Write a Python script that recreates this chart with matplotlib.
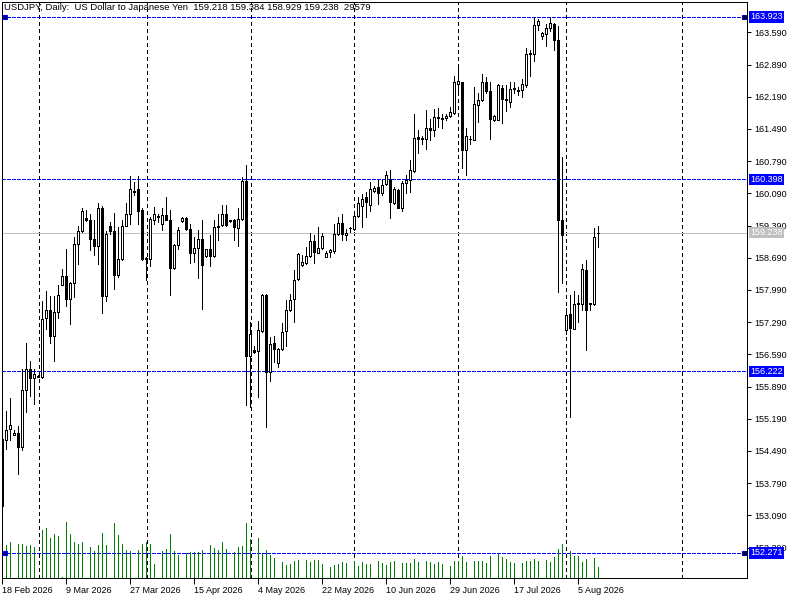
import numpy as np
import pandas as pd
import matplotlib
matplotlib.use("Agg")
from matplotlib import pyplot as plt
from matplotlib.patches import Rectangle
import matplotlib.transforms as mtransforms

plt.rcParams['font.family'] = ['Liberation Sans', 'DejaVu Sans']

# one bar per calendar day except Saturday (Sunday bars are tiny / zero volume)
days = pd.date_range("2026-02-18", "2026-08-11")
days = days[days.dayofweek != 5]

opens = [154.74, 154.73, 154.97, 154.84, 154.89, 154.58, 155.82, 156.28, 156.08, 156.12,
         156.10, 157.37, 157.56, 156.99, 157.50, 158.10, 158.30, 157.80, 158.15, 158.98,
         159.26, 159.55, 159.52, 159.10, 158.95, 159.76, 157.86, 159.39, 159.28, 158.32,
         158.67, 159.39, 159.65, 160.12, 160.18, 159.72, 158.69, 158.67, 159.52, 159.59,
         159.43, 159.61, 159.52, 158.47, 158.96, 159.49, 159.56, 159.32, 158.79, 158.91,
         159.10, 158.72, 158.87, 158.72, 159.39, 159.41, 159.63, 159.50, 159.50, 159.34,
         159.54, 160.35, 156.55, 156.69, 156.66, 157.10, 157.89, 156.21, 156.84, 156.41,
         156.71, 157.10, 157.55, 157.80, 158.23, 158.53, 158.58, 158.72, 159.05, 158.80,
         158.91, 158.71, 158.82, 158.84, 159.21, 159.45, 159.19, 159.33, 159.32, 159.59,
         159.81, 160.01, 159.84, 160.14, 160.23, 160.10, 160.30, 160.41, 159.88, 160.17,
         159.77, 160.32, 160.37, 160.57, 161.31, 161.28, 161.26, 161.50, 161.46, 161.75,
         161.73, 161.73, 161.76, 161.84, 162.47, 162.50, 161.04, 161.27, 161.24, 162.02,
         162.11, 162.50, 162.31, 161.68, 161.69, 162.39, 162.15, 162.08, 162.36, 162.33,
         162.33, 162.44, 163.11, 163.11, 163.74, 163.50, 163.56, 163.69, 163.76, 163.42,
         159.52, 157.11, 157.46, 157.15, 157.70, 157.68, 158.43, 157.70, 157.68, 159.218]
highs = [154.78, 155.35, 155.63, 154.94, 155.04, 156.28, 156.84, 156.44, 156.28, 156.14,
         157.74, 157.96, 157.85, 157.85, 158.09, 158.45, 158.89, 158.16, 159.14, 159.39,
         159.77, 159.73, 159.65, 159.50, 159.89, 159.81, 159.26, 159.47, 159.66, 159.36,
         159.50, 159.88, 160.47, 160.34, 160.47, 159.76, 158.71, 159.58, 159.79, 159.65,
         159.76, 160.02, 159.72, 158.98, 159.36, 159.58, 159.58, 159.43, 159.14, 159.30,
         159.52, 158.89, 159.18, 159.50, 159.65, 159.84, 159.84, 159.52, 159.54, 159.78,
         160.44, 160.71, 157.29, 156.76, 157.31, 157.91, 157.91, 156.97, 156.98, 156.72,
         157.26, 157.76, 157.91, 158.42, 158.79, 158.74, 158.92, 159.23, 159.18, 159.36,
         159.23, 158.83, 158.89, 159.42, 159.58, 159.63, 159.32, 159.36, 159.68, 160.01,
         160.08, 160.12, 160.34, 160.24, 160.37, 160.37, 160.58, 160.59, 160.23, 160.18,
         160.36, 160.48, 160.81, 161.82, 161.46, 161.33, 161.91, 161.71, 161.93, 161.94,
         161.82, 161.82, 161.97, 162.65, 162.82, 162.51, 161.50, 161.33, 162.40, 162.26,
         162.69, 162.62, 162.51, 161.79, 162.47, 162.44, 162.44, 162.51, 162.51, 162.40,
         162.58, 163.24, 163.21, 163.92, 163.89, 163.60, 163.78, 163.923, 163.79, 163.72,
         160.87, 157.59, 157.87, 157.97, 157.88, 158.55, 158.63, 157.71, 159.34, 159.384]
lows = [153.26, 154.54, 154.72, 154.83, 153.99, 154.52, 155.34, 155.68, 155.50, 156.09,
        156.08, 157.15, 156.84, 156.45, 157.37, 158.09, 157.63, 157.24, 157.84, 158.56,
        159.25, 159.49, 158.85, 158.74, 158.56, 157.49, 157.74, 159.20, 158.00, 158.27,
        158.65, 159.37, 159.43, 160.05, 159.43, 158.63, 158.20, 158.52, 159.43, 159.47,
        159.29, 159.50, 157.87, 158.45, 158.89, 159.47, 159.29, 158.58, 158.60, 158.25,
        157.58, 158.70, 158.52, 158.70, 159.07, 159.39, 159.39, 159.46, 159.07, 158.94,
        159.50, 155.48, 155.45, 156.62, 155.66, 157.08, 155.01, 156.01, 156.42, 156.31,
        156.69, 156.76, 157.53, 157.29, 158.21, 158.52, 158.56, 158.71, 158.57, 158.79,
        158.89, 158.71, 158.71, 158.79, 159.19, 159.08, 159.07, 159.25, 159.29, 159.58,
        159.36, 159.58, 159.71, 160.12, 159.85, 160.05, 160.27, 159.56, 159.85, 159.76,
        159.71, 160.10, 160.12, 160.55, 160.97, 161.17, 161.06, 161.24, 161.33, 161.53,
        161.51, 161.68, 161.75, 161.82, 162.22, 160.63, 160.48, 161.17, 161.24, 161.64,
        162.10, 162.26, 161.28, 161.66, 161.68, 161.61, 161.89, 161.97, 162.26, 162.22,
        162.18, 162.40, 162.65, 162.97, 163.63, 163.45, 163.29, 163.62, 163.21, 157.95,
        158.14, 157.04, 155.23, 157.13, 157.29, 157.55, 156.68, 157.55, 157.66, 158.929]
closes = [153.30, 154.95, 155.06, 154.89, 154.58, 155.82, 156.28, 156.08, 156.17, 156.10,
          157.36, 157.55, 156.99, 157.50, 157.89, 158.30, 157.80, 158.15, 158.98, 159.26,
          159.70, 159.50, 159.10, 158.95, 159.76, 157.86, 159.20, 159.27, 158.32, 158.67,
          159.39, 159.65, 160.19, 160.13, 159.71, 158.67, 158.67, 159.54, 159.63, 159.57,
          159.61, 159.52, 158.47, 158.96, 159.29, 159.56, 159.32, 158.79, 158.91, 159.10,
          158.54, 158.87, 158.72, 159.36, 159.36, 159.65, 159.41, 159.48, 159.36, 159.54,
          160.35, 156.55, 157.04, 156.64, 157.11, 157.89, 156.21, 156.82, 156.71, 156.71,
          157.07, 157.55, 157.78, 158.21, 158.76, 158.60, 158.72, 159.05, 158.81, 158.91,
          159.16, 158.80, 158.85, 159.21, 159.45, 159.20, 159.23, 159.34, 159.59, 159.87,
          159.97, 159.90, 160.18, 160.21, 160.10, 160.28, 160.48, 159.90, 160.19, 159.77,
          160.32, 160.37, 160.60, 161.30, 161.26, 161.29, 161.50, 161.46, 161.75, 161.73,
          161.71, 161.77, 161.86, 162.50, 162.53, 161.04, 161.33, 161.28, 162.04, 162.11,
          162.50, 162.31, 161.71, 161.76, 162.44, 162.15, 162.11, 162.36, 162.37, 162.32,
          162.46, 163.11, 163.14, 163.74, 163.83, 163.58, 163.69, 163.80, 163.42, 159.52,
          159.18, 157.44, 157.17, 157.68, 157.68, 158.45, 157.55, 157.68, 159.15, 159.238]
volumes = [80700, 88800, 96800, 0, 91500, 91500, 86100, 88800, 83400, 0,
           129100, 134500, 107600, 118400, 113000, 2700, 150600, 118400, 96800, 91500,
           96800, 0, 83400, 72600, 88800, 121100, 88800, 0, 148000, 115700,
           91500, 75300, 72600, 0, 75300, 91500, 96800, 91500, 37700, 0,
           72600, 78000, 118400, 72600, 61900, 0, 67300, 69900, 69900, 69900,
           75300, 0, 88800, 80700, 75300, 96800, 78000, 0, 69900, 83400,
           86100, 148000, 104900, 0, 107600, 64600, 75300, 61900, 53800, 0,
           43000, 35000, 37700, 45700, 48400, 0, 48400, 43000, 48400, 48400,
           37700, 0, 29600, 35000, 37700, 43000, 40400, 0, 45700, 32300,
           43000, 37700, 37700, 0, 45700, 40400, 35000, 43000, 45700, 0,
           40400, 40400, 40400, 51100, 43000, 0, 45700, 43000, 37700, 43000,
           37700, 0, 32300, 45700, 45700, 59200, 43000, 0, 45700, 45700,
           45700, 40400, 59200, 0, 64600, 56500, 51100, 43000, 40400, 0,
           40400, 45700, 45700, 51100, 45700, 0, 48400, 43000, 56500, 78000,
           91500, 0, 72600, 59200, 59200, 43000, 51100, 0, 53800, 29579]

tick_dates = ["2026-02-18", "2026-03-09", "2026-03-27", "2026-04-15", "2026-05-04",
              "2026-05-22", "2026-06-10", "2026-06-29", "2026-07-17", "2026-08-05"]
price_ticks = np.round(np.arange(152.39, 163.60, 0.7), 3)
blue_levels = [163.923, 160.398, 156.222, 152.271]
bid = 159.238
grid_slots = [9.25, 36.1, 62.1, 88.0, 114.0, 141.0, 170.0]

PX = 0.72  # one pixel in points at 100 dpi

fig = plt.figure(figsize=(8, 6), dpi=100)
ax = fig.add_axes([2/800, 22/600, 745/800, 576/600])
ax.set_xlim(-0.075, 186.175)
ax.set_ylim(151.727, 164.249)

x = np.arange(len(days))

# grid and level lines
for g in grid_slots:
    ax.axvline(g, color='black', lw=PX, ls=(0, (3, 3)), antialiased=False, zorder=1)
for lv in blue_levels:
    ax.axhline(lv, color='#0000FF', lw=PX, ls=(0, (4, 2)), antialiased=False, zorder=1)
ax.axhline(bid, color='#C0C0C0', lw=PX, antialiased=False, zorder=1)

# volumes at the bottom of the price window
vol_full = 1549000
btrans = mtransforms.blended_transform_factory(ax.transData, ax.transAxes)
ax.vlines(x, 0, np.array(volumes) / vol_full, transform=btrans,
          color='#008000', lw=PX, antialiased=False, zorder=2)

# candles: wicks, then bodies (bear = solid, bull = outlined white)
ax.vlines(x, lows, highs, color='black', lw=PX, antialiased=False, zorder=3)
for i in range(len(x)):
    o, c = opens[i], closes[i]
    if c < o:
        ax.vlines(x[i], c, o, color='black', lw=3 * PX, antialiased=False, zorder=4)
    else:
        ax.add_patch(Rectangle((x[i] - 0.25, o), 0.5, c - o,
                               facecolor='white', edgecolor='black', lw=PX,
                               antialiased=False, zorder=4))

# level anchors
for lv in [blue_levels[0], blue_levels[3]]:
    ax.plot([0.6], [lv], marker='s', ms=3.5, mfc='#000080', mec='#0000FF',
            mew=0.8, zorder=5, clip_on=False)
    ax.plot([185.5], [lv], marker='s', ms=3.3, mfc='#000030', mec='#0000A0',
            mew=0.8, zorder=5, clip_on=False)

# axes
for sp in ax.spines.values():
    sp.set_linewidth(PX)
    sp.set_color('black')
ax.yaxis.tick_right()
ax.set_yticks(price_ticks)
ax.set_yticklabels([f"{t:.3f}" for t in price_ticks])
ax.tick_params(axis='y', length=3, width=PX, pad=2, labelsize=6.5, right=True, left=False)

tick_pos = days.get_indexer(pd.to_datetime(tick_dates))
ax.set_xticks(tick_pos)
ax.set_xticklabels([f"{d.day} {d:%b %Y}" for d in pd.to_datetime(tick_dates)])
ax.tick_params(axis='x', length=4, width=PX, pad=2, labelsize=6.5)
plt.setp(ax.get_xticklabels(), ha='left')

# highlighted price labels
ltrans = mtransforms.blended_transform_factory(ax.transAxes, ax.transData)
for lv in blue_levels:
    ax.text(1.0045, lv, f"{lv:.3f}", transform=ltrans, fontsize=6.5, color='white',
            va='center', ha='left', zorder=6,
            bbox=dict(boxstyle='square,pad=0.12', facecolor='#0000FF', edgecolor='none'))
ax.text(1.0045, bid, f"{bid:.3f}", transform=ltrans, fontsize=6.5, color='white',
        va='center', ha='left', zorder=6,
        bbox=dict(boxstyle='square,pad=0.12', facecolor='#C0C0C0', edgecolor='none'))

fig.text(4/800, 1 - 3/600,
         "USDJPY, Daily:  US Dollar to Japanese Yen  159.218 159.384 158.929 159.238  29579",
         fontsize=6.8, va='top', ha='left')

fig.savefig("out.png", dpi=100)
